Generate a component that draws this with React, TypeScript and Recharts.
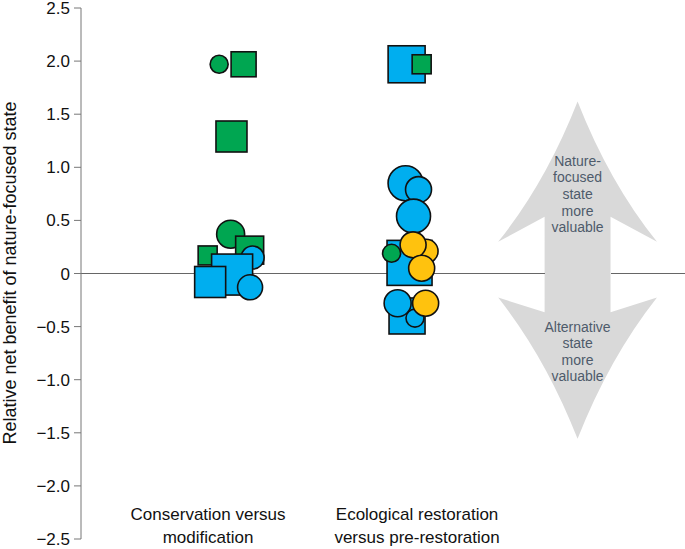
import React from 'react';
import {
  ScatterChart,
  Scatter,
  XAxis,
  YAxis,
  ZAxis,
  ReferenceLine,
  ReferenceArea,
} from 'recharts';

// ---------- data ----------
const categoryPositions = [1, 2];
const categoryLabels = [
  ['Conservation versus', 'modification'],
  ['Ecological restoration', 'versus pre-restoration'],
];
const yTicks = [2.5, 2.0, 1.5, 1.0, 0.5, 0, -0.5, -1.0, -1.5, -2.0, -2.5];
const xDomain = [0.392, 3.282];
const yDomain = [-2.5, 2.5];

// x = category position + jitter, y = relative net benefit, z = marker size (relative units)
const conservationPoints = [
  { x: 1.053, y: 1.97, z: 1.8, marker: 'circle', kind: 'green' },
  { x: 1.17, y: 1.97, z: 2.5, marker: 'square', kind: 'green' },
  { x: 1.112, y: 1.29, z: 3.1, marker: 'square', kind: 'green' },
  { x: 1.108, y: 0.37, z: 2.8, marker: 'circle', kind: 'green' },
  { x: 1.199, y: 0.22, z: 2.8, marker: 'square', kind: 'green' },
  { x: 1.213, y: 0.15, z: 2.3, marker: 'circle', kind: 'blue' },
  { x: 0.998, y: 0.17, z: 1.9, marker: 'square', kind: 'green' },
  { x: 1.115, y: -0.01, z: 4.1, marker: 'square', kind: 'blue' },
  { x: 1.01, y: -0.08, z: 3.1, marker: 'square', kind: 'blue' },
  { x: 1.201, y: -0.13, z: 2.5, marker: 'circle', kind: 'blue' },
];

const restorationPoints = [
  { x: 1.95, y: 1.97, z: 3.7, marker: 'square', kind: 'blue' },
  { x: 2.022, y: 1.97, z: 1.9, marker: 'square', kind: 'green' },
  { x: 1.945, y: 0.85, z: 3.5, marker: 'circle', kind: 'blue' },
  { x: 2.007, y: 0.79, z: 2.6, marker: 'circle', kind: 'blue' },
  { x: 1.983, y: 0.54, z: 3.4, marker: 'circle', kind: 'blue' },
  { x: 1.964, y: 0.1, z: 4.5, marker: 'square', kind: 'blue' },
  { x: 1.878, y: 0.19, z: 1.8, marker: 'circle', kind: 'green' },
  { x: 2.043, y: 0.21, z: 2.4, marker: 'circle', kind: 'yellow' },
  { x: 1.981, y: 0.27, z: 2.6, marker: 'circle', kind: 'yellow' },
  { x: 2.022, y: 0.05, z: 2.6, marker: 'circle', kind: 'yellow' },
  { x: 1.952, y: -0.4, z: 3.6, marker: 'square', kind: 'blue' },
  { x: 1.99, y: -0.42, z: 1.8, marker: 'circle', kind: 'blue' },
  { x: 1.907, y: -0.28, z: 2.7, marker: 'circle', kind: 'blue' },
  { x: 2.041, y: -0.28, z: 2.6, marker: 'circle', kind: 'yellow' },
];

const arrowUpperText = ['Nature-', 'focused', 'state', 'more', 'valuable'];
const arrowLowerText = ['Alternative', 'state', 'more', 'valuable'];
const arrowBox = { x1: 2.388, x2: 3.148, y1: -1.557, y2: 1.62 };
const arrowShaft = { left: 2.612, right: 2.928 };

// ---------- styles ----------
const FONT = '"Liberation Sans", Arial, Helvetica, sans-serif';
const COLORS: Record<string, string> = {
  green: '#00A651',
  blue: '#00AEEF',
  yellow: '#FFC20E',
};
const SIZE_UNIT = 10;

const renderMarker = (props: any) => {
  const { cx, cy, payload } = props;
  if (cx == null || cy == null) return null;
  const d = payload.z * SIZE_UNIT;
  const fill = COLORS[payload.kind];
  if (payload.marker === 'square') {
    return (
      <rect
        x={cx - d / 2}
        y={cy - d / 2}
        width={d}
        height={d}
        fill={fill}
        stroke="#111"
        strokeWidth={1.6}
      />
    );
  }
  return <circle cx={cx} cy={cy} r={d / 2} fill={fill} stroke="#111" strokeWidth={1.6} />;
};

const renderArrow = (props: any) => {
  const { x, y, width: w, height: h } = props;
  const px = (f: number) => x + f * w;
  const py = (f: number) => y + f * h;
  const sl = 0.2925;
  const sr = 0.7075;
  const d = [
    `M ${px(0.5)} ${py(0)}`,
    `Q ${px(0.7)} ${py(0.24)} ${px(1)} ${py(0.416)}`,
    `L ${px(sr)} ${py(0.342)}`,
    `L ${px(sr)} ${py(0.625)}`,
    `L ${px(1)} ${py(0.581)}`,
    `Q ${px(0.7)} ${py(0.76)} ${px(0.5)} ${py(1)}`,
    `Q ${px(0.3)} ${py(0.76)} ${px(0)} ${py(0.581)}`,
    `L ${px(sl)} ${py(0.625)}`,
    `L ${px(sl)} ${py(0.342)}`,
    `L ${px(0)} ${py(0.416)}`,
    `Q ${px(0.3)} ${py(0.24)} ${px(0.5)} ${py(0)}`,
    'Z',
  ].join(' ');
  const cxm = px(0.5);
  return (
    <g>
      <path d={d} fill="#D9D9D9" stroke="none" />
      <text
        x={cxm}
        y={py(0.19)}
        textAnchor="middle"
        fontFamily={FONT}
        fontSize={14}
        fill="#4E5B6B"
      >
        {arrowUpperText.map((t, i) => (
          <tspan key={i} x={cxm} dy={i === 0 ? 0 : 16.7}>
            {t}
          </tspan>
        ))}
      </text>
      <text
        x={cxm}
        y={py(0.683)}
        textAnchor="middle"
        fontFamily={FONT}
        fontSize={14}
        fill="#4E5B6B"
      >
        {arrowLowerText.map((t, i) => (
          <tspan key={i} x={cxm} dy={i === 0 ? 0 : 16.4}>
            {t}
          </tspan>
        ))}
      </text>
    </g>
  );
};

const renderXTick = (props: any) => {
  const { x, y, payload } = props;
  const idx = categoryPositions.indexOf(payload.value);
  const lines = categoryLabels[idx] || [];
  return (
    <text x={x} y={y - 21} textAnchor="middle" fontFamily={FONT} fontSize={17} fill="#111">
      {lines.map((t, i) => (
        <tspan key={i} x={x} dy={i === 0 ? 0 : 23}>
          {t}
        </tspan>
      ))}
    </text>
  );
};

const formatY = (v: number) => {
  if (v === 0) return '0';
  const s = Math.abs(v).toFixed(1);
  return v < 0 ? `\u2212${s}` : s;
};

const renderYLabel = () => {
  const cx = 16;
  const cy = 273;
  return (
    <text
      x={cx}
      y={cy}
      transform={`rotate(-90, ${cx}, ${cy})`}
      textAnchor="middle"
      fontFamily={FONT}
      fontSize={18}
      fill="#111"
    >
      Relative net benefit of nature-focused state
    </text>
  );
};

export default function App() {
  return (
    <div style={{ position: 'absolute', left: 0, top: 0, width: 685, height: 549, background: '#fff' }}>
      <ScatterChart width={685} height={549} margin={{ top: 8, right: 0, bottom: 9, left: 0 }}>
        <XAxis
          type="number"
          dataKey="x"
          domain={xDomain}
          ticks={categoryPositions}
          tick={renderXTick}
          axisLine={false}
          tickLine={false}
          tickSize={0}
          height={1}
          allowDataOverflow
          interval={0}
        />
        <YAxis
          type="number"
          dataKey="y"
          domain={yDomain}
          ticks={yTicks}
          tickFormatter={formatY}
          width={81}
          tick={{ fontFamily: FONT, fontSize: 17, fill: '#111' }}
          tickLine={{ stroke: '#777' }}
          axisLine={{ stroke: '#777' }}
          tickSize={7}
          tickMargin={4}
          interval={0}
          allowDataOverflow
          label={{ content: renderYLabel }}
        />
        <ZAxis type="number" dataKey="z" range={[64, 64]} />
        <ReferenceLine
          segment={[
            { x: xDomain[0], y: 0 },
            { x: arrowShaft.left, y: 0 },
          ]}
          stroke="#666"
          strokeWidth={1}
        />
        <ReferenceLine
          segment={[
            { x: arrowShaft.right, y: 0 },
            { x: xDomain[1], y: 0 },
          ]}
          stroke="#666"
          strokeWidth={1}
        />
        <ReferenceArea
          x1={arrowBox.x1}
          x2={arrowBox.x2}
          y1={arrowBox.y1}
          y2={arrowBox.y2}
          shape={renderArrow}
        />
        <Scatter data={conservationPoints} shape={renderMarker} isAnimationActive={false} />
        <Scatter data={restorationPoints} shape={renderMarker} isAnimationActive={false} />
      </ScatterChart>
    </div>
  );
}
